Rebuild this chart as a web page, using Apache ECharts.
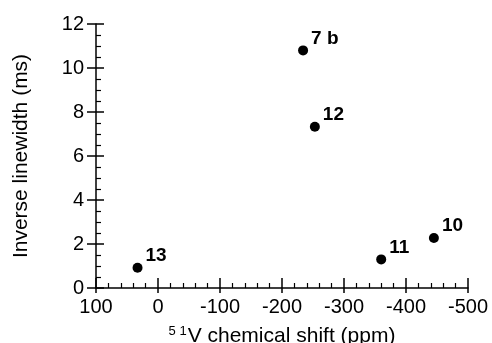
<!DOCTYPE html>
<html><head><meta charset="utf-8">
<script src="https://cdn.jsdelivr.net/npm/echarts@6/dist/echarts.min.js"></script>
<style>html,body{margin:0;padding:0;background:#fff}#c{width:492px;height:343px}</style>
</head><body><div id="c"></div>
<script>
var names = ['13', '7 b', '12', '11', '10'];
var shifts = [33, -234, -253, -360, -445];
var invWidths = [0.92, 10.8, 7.33, 1.3, 2.27];
var xTicks = [100, 0, -100, -200, -300, -400, -500];
var yTicks = [0, 2, 4, 6, 8, 10, 12];

var F = '"Liberation Sans", Arial, sans-serif';
var chart = echarts.init(document.getElementById('c'));
var data = names.map(function (n, i) { return { name: n, value: [shifts[i], invWidths[i]] }; });
chart.setOption({
  animation: false,
  grid: { left: 96, right: 24, top: 24, bottom: 55, containLabel: false, outerBoundsMode: 'none' },
  xAxis: [{
    type: 'value', inverse: true, min: xTicks[xTicks.length - 1], max: xTicks[0], interval: 100,
    axisLine: { onZero: false, lineStyle: { color: '#000', width: 1.5 } },
    axisTick: { inside: true, length: 10, lineStyle: { color: '#000', width: 1.5 } },
    minorTick: { show: true, splitNumber: 5, length: 5, lineStyle: { color: '#000', width: 1.2 } },
    splitLine: { show: false },
    axisLabel: { color: '#000', fontFamily: F, fontSize: 20, margin: 9 },
    name: '{sup|5 1}{t|V chemical shift (ppm)}', nameLocation: 'middle', nameGap: 37,
    nameTextStyle: { rich: { sup: { fontSize: 13, verticalAlign: 'top', fontFamily: F, color: '#000', padding: [0, 1, 9, 0] }, t: { fontSize: 21, fontFamily: F, color: '#000' } } }
  }, {
    type: 'value', inverse: true, min: xTicks[xTicks.length - 1], max: xTicks[0], interval: 100, position: 'bottom',
    axisLine: { show: false, onZero: false }, axisTick: { inside: false, length: 5, lineStyle: { color: '#000', width: 1.5 } },
    axisLabel: { show: false }, splitLine: { show: false }
  }],
  yAxis: [{
    type: 'value', min: yTicks[0], max: yTicks[yTicks.length - 1], interval: 2,
    axisLine: { show: true, onZero: false, lineStyle: { color: '#000', width: 1.5 } },
    axisTick: { inside: true, length: 8, lineStyle: { color: '#000', width: 1.5 } },
    minorTick: { show: true, splitNumber: 4, length: 5, lineStyle: { color: '#000', width: 1.2 } },
    splitLine: { show: false },
    axisLabel: { color: '#000', fontFamily: F, fontSize: 20, margin: 12 },
    name: 'Inverse linewidth (ms)', nameLocation: 'middle', nameGap: 64,
    nameTextStyle: { color: '#000', fontFamily: F, fontSize: 21 }
  }, {
    type: 'value', min: yTicks[0], max: yTicks[yTicks.length - 1], interval: 2, position: 'left',
    axisLine: { show: false, onZero: false }, axisTick: { show: true, inside: false, length: 9, lineStyle: { color: '#000', width: 1.5 } },
    axisLabel: { show: false }, splitLine: { show: false }
  }],
  series: [{
    type: 'scatter', data: data, symbolSize: 10, itemStyle: { color: '#000', opacity: 1 },
    label: {
      show: true, position: 'right', distance: 3, offset: [0, -12],
      formatter: function (p) { return p.name; },
      color: '#000', fontFamily: F, fontSize: 19, fontWeight: 'bold'
    }
  }]
});
</script></body></html>
